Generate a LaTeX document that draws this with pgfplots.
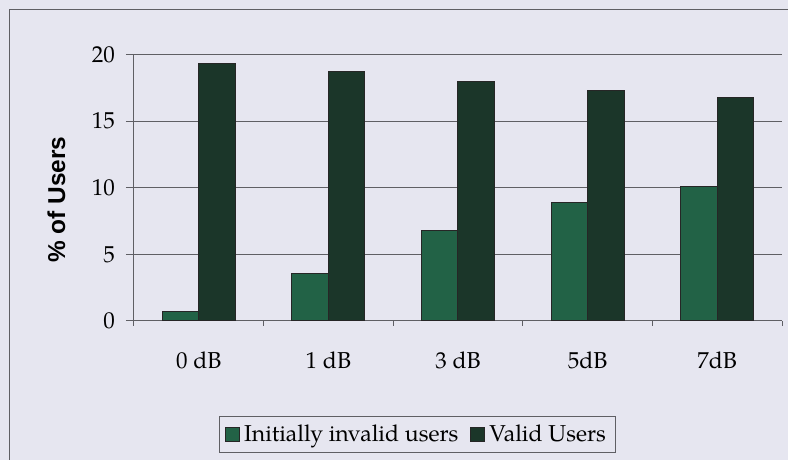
\documentclass[border=0pt]{standalone}
\usepackage{fontspec}
\setmainfont{TeX Gyre Pagella}
\newfontfamily\arialbold{Liberation Sans}[UprightFont=*-Bold]
\usepackage{pgfplots}
\pgfplotsset{compat=1.18}
\definecolor{bgc}{RGB}{230,230,240}
\definecolor{lightbar}{RGB}{34,98,70}
\definecolor{darkbar}{RGB}{27,54,41}
\definecolor{gridc}{RGB}{95,95,100}
\newcommand{\lgfont}{\fontsize{11.5}{13}\selectfont}
\begin{document}
\begin{tikzpicture}
\fill[bgc] (0,0) rectangle (394pt,230pt);
\useasboundingbox (0,0) rectangle (394pt,230pt);
\draw[gridc, line width=0.5pt] (4.5pt,0) -- (4.5pt,225pt) -- (394pt,225pt);
\begin{axis}[
  /pgf/number format/assume math mode=true,
  at={(67pt,69.5pt)}, anchor=south west,
  scale only axis, width=324pt, height=133.25pt,
  ybar=0pt, bar width=18.25pt,
  xmin=-0.5, xmax=4.5, ymin=0, ymax=20,
  axis lines*=left, axis line style={draw=gridc, line width=0.5pt, -},
  xtick={0,1,2,3,4},
  xticklabels={0 dB,1 dB,3 dB,5dB,7dB},
  minor xtick={-0.5,0.5,1.5,2.5,3.5,4.5},
  ytick={0,5,10,15,20},
  ymajorgrids, grid style={draw=gridc, line width=0.5pt},
  tick align=outside,
  major tick length=4pt, minor tick length=2.5pt,
  x tick style={draw=none},
  minor x tick style={draw=gridc, line width=0.5pt},
  y tick style={draw=gridc, line width=0.5pt},
  tick label style={font=\lgfont},
  xticklabel style={yshift=-8pt},
  yticklabel style={xshift=-2pt},
  every axis y label/.style={at={(axis description cs:-0.1196,0.456)}, rotate=90, anchor=center,
    font=\arialbold\fontsize{12.2}{14}\selectfont},
  ylabel={\% of Users},
  legend columns=2,
  legend style={at={(axis description cs:0.4375,-0.426)}, anchor=center,
    draw=gridc, line width=0.5pt, fill=bgc, font=\lgfont,
    /tikz/every even column/.append style={column sep=4pt},
    inner xsep=3pt, inner ysep=2pt},
  legend image code/.code={\draw[#1, line width=0.5pt] (0pt,-3.5pt) rectangle (7pt,3.5pt);},
]
\addplot[fill=lightbar, draw=black!85, line width=0.5pt] coordinates {(0,0.7) (1,3.57) (2,6.8) (3,8.86) (4,10.06)};
\addlegendentry{Initially invalid users}
\addplot[fill=darkbar, draw=black!85, line width=0.5pt] coordinates {(0,19.3) (1,18.7) (2,18.0) (3,17.3) (4,16.75)};
\addlegendentry{Valid Users}
\end{axis}
\end{tikzpicture}
\end{document}
